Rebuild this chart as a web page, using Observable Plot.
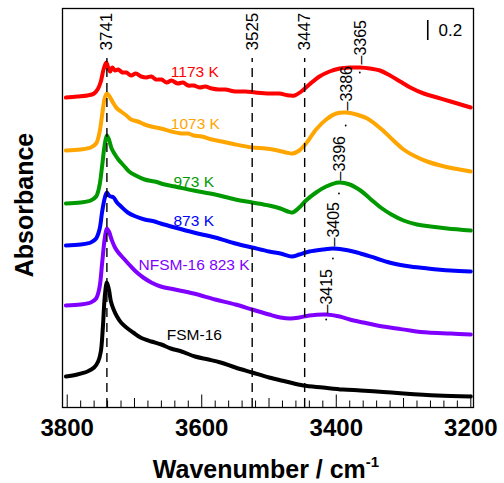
<!DOCTYPE html>
<html><head><meta charset="utf-8">
<script src="https://cdn.jsdelivr.net/npm/d3@7"></script>
<script src="https://cdn.jsdelivr.net/npm/@observablehq/plot@0.6"></script>
<style>
body{margin:0;background:#fff;}
svg{font-family:"Liberation Sans",Arial,sans-serif;}
</style>
</head><body><div id="chart"></div>
<script>
// ---- data: [wavenumber, absorbance (offset)] ----
const fsm16 = [[3802,0.31],[3785,0.33],[3770,0.36],[3760,0.40],[3754,0.46],[3750,0.56],[3747,0.80],[3744,1.12],[3741,1.25],[3738,1.18],[3735,1.06],[3731,0.98],[3726,0.91],[3720,0.85],[3712,0.80],[3702,0.75],[3691,0.70],[3675,0.66],[3660,0.63],[3646,0.59],[3630,0.56],[3610,0.51],[3590,0.48],[3572,0.45],[3550,0.40],[3525,0.35],[3500,0.30],[3475,0.26],[3449,0.22],[3420,0.20],[3390,0.18],[3364,0.17],[3330,0.155],[3300,0.14],[3250,0.12],[3200,0.11]];
const nfsm823 = [[3802,1.02],[3780,1.03],[3765,1.05],[3757,1.09],[3752,1.20],[3748,1.45],[3744,1.70],[3741,1.79],[3738,1.76],[3734,1.68],[3729,1.60],[3724,1.55],[3716,1.49],[3708,1.43],[3698,1.36],[3687,1.30],[3675,1.25],[3661,1.21],[3640,1.18],[3612,1.14],[3580,1.08],[3550,1.03],[3525,0.98],[3500,0.93],[3483,0.90],[3468,0.89],[3455,0.90],[3440,0.92],[3415,0.93],[3395,0.91],[3380,0.88],[3360,0.85],[3339,0.82],[3310,0.79],[3290,0.77],[3264,0.75],[3230,0.74],[3200,0.73]];
const k873 = [[3802,1.62],[3780,1.63],[3765,1.65],[3757,1.69],[3752,1.78],[3748,1.96],[3744,2.10],[3741,2.15],[3738,2.12],[3735,2.11],[3731,2.10],[3726,2.05],[3720,2.01],[3710,1.95],[3698,1.91],[3685,1.88],[3670,1.86],[3661,1.84],[3640,1.80],[3612,1.75],[3580,1.70],[3550,1.64],[3525,1.60],[3500,1.56],[3483,1.54],[3466,1.51],[3455,1.53],[3440,1.56],[3420,1.58],[3405,1.59],[3390,1.58],[3375,1.56],[3364,1.54],[3340,1.49],[3315,1.44],[3290,1.41],[3264,1.39],[3230,1.37],[3200,1.36]];
const k973 = [[3802,2.04],[3780,2.05],[3765,2.07],[3757,2.11],[3752,2.22],[3748,2.42],[3744,2.64],[3741,2.72],[3738,2.68],[3734,2.59],[3729,2.53],[3724,2.48],[3716,2.42],[3708,2.36],[3698,2.32],[3685,2.28],[3670,2.26],[3655,2.23],[3640,2.21],[3612,2.17],[3580,2.13],[3550,2.08],[3525,2.05],[3500,2.02],[3483,1.99],[3472,1.96],[3465,1.95],[3455,2.00],[3445,2.07],[3430,2.15],[3415,2.21],[3396,2.25],[3380,2.23],[3364,2.17],[3350,2.09],[3334,2.00],[3318,1.93],[3300,1.87],[3280,1.83],[3260,1.81],[3235,1.79],[3200,1.77]];
const k1073 = [[3802,2.57],[3780,2.58],[3765,2.60],[3757,2.64],[3752,2.75],[3748,2.93],[3744,3.10],[3741,3.14],[3737,3.11],[3732,3.05],[3726,2.99],[3720,2.96],[3712,2.92],[3705,2.88],[3695,2.86],[3685,2.83],[3675,2.81],[3661,2.79],[3645,2.76],[3630,2.74],[3620,2.74],[3612,2.72],[3600,2.71],[3585,2.68],[3570,2.66],[3550,2.63],[3525,2.60],[3505,2.59],[3487,2.57],[3475,2.55],[3465,2.54],[3455,2.57],[3445,2.64],[3430,2.78],[3415,2.88],[3400,2.94],[3386,2.95],[3370,2.93],[3354,2.89],[3334,2.79],[3315,2.67],[3300,2.58],[3285,2.52],[3265,2.46],[3245,2.42],[3225,2.39],[3200,2.36]];
const k1173 = [[3802,3.10],[3785,3.11],[3770,3.12],[3760,3.14],[3754,3.19],[3750,3.26],[3746,3.38],[3742,3.45],[3739,3.40],[3736,3.36],[3733,3.40],[3729,3.37],[3724,3.38],[3718,3.35],[3712,3.35],[3705,3.32],[3698,3.34],[3690,3.31],[3682,3.30],[3675,3.31],[3668,3.28],[3660,3.28],[3652,3.25],[3645,3.27],[3636,3.24],[3628,3.25],[3620,3.22],[3612,3.22],[3603,3.20],[3595,3.21],[3585,3.19],[3575,3.18],[3565,3.18],[3550,3.16],[3535,3.16],[3520,3.15],[3500,3.14],[3485,3.14],[3470,3.12],[3462,3.12],[3452,3.16],[3440,3.23],[3425,3.31],[3410,3.36],[3395,3.39],[3380,3.40],[3365,3.40],[3350,3.39],[3335,3.37],[3320,3.32],[3305,3.26],[3290,3.20],[3270,3.14],[3250,3.10],[3230,3.06],[3215,3.03],[3200,3.00]];

const seriesNames = ["FSM-16","NFSM-16 823 K","873 K","973 K","1073 K","1173 K"];
const seriesColors = ["#000000","#7f00ff","#0000ff","#009a00","#ffa500","#ff0000"];
const seriesData = [fsm16, nfsm823, k873, k973, k1073, k1173];
const labelWn = [3652, 3694, 3642, 3642, 3646, 3646];
const labelAbs = [0.72, 1.42, 1.86, 2.25, 2.83, 3.35];

const dashWn = [3741, 3525, 3447];
const peakWn = [3415, 3405, 3396, 3386, 3365];
const peakAbs = [0.94, 1.61, 2.27, 2.97, 3.43];
const peakDotAbs = [0.88, 1.49, 2.14, 2.82, 3.35];

const tickLabels = [3800, 3600, 3400, 3200];
const ticks100 = [3700, 3500, 3300];
const ticks20 = d3.range(3200, 3801, 20).filter(v => v % 100 !== 0);

const scaleBarWn = 3264, scaleBarLo = 3.67, scaleBarHi = 3.87, scaleBarText = "0.2";

// ---- build ----
const rows = seriesData.flatMap((pts, i) => pts.map(([wn, a]) => ({s: seriesNames[i], wn, a})));
const labels = seriesNames.map((n, i) => ({n, wn: labelWn[i], a: labelAbs[i], c: seriesColors[i]}));
const peaks = peakWn.map((wn, i) => ({wn, a: peakAbs[i], d: peakDotAbs[i]}));

const marks = [Plot.frame({stroke: "black", strokeWidth: 1.3})];
seriesNames.forEach((n, i) => {
  marks.push(Plot.line(rows.filter(r => r.s === n), {x: "wn", y: "a", stroke: seriesColors[i], strokeWidth: 4, curve: "catmull-rom"}));
});
marks.push(
  Plot.ruleX(dashWn, {x: d => d, y1: 0, y2: 3.49, stroke: "black", strokeWidth: 1.4, strokeDasharray: "9,6"}),
  Plot.text(dashWn, {x: d => d, y: 3.57, text: d => String(d), rotate: -90, textAnchor: "start", fontSize: 17, fill: "black"}),
  Plot.text(peaks, {x: "wn", y: "a", text: d => "\u2013" + d.wn, rotate: -90, textAnchor: "start", fontSize: 16, fill: "black", dx: 1}),
  Plot.dot(peaks, {x: "wn", y: "d", r: 0.9, fill: "black", stroke: null}),
  Plot.text(labels, {x: "wn", y: "a", text: "n", fill: "c", textAnchor: "start", fontSize: 15.5}),
  Plot.ruleX(ticks20, {x: d => d, y1: 0, y2: 0.065, stroke: "black", strokeWidth: 1}),
  Plot.ruleX(ticks100, {x: d => d, y1: 0, y2: 0.09, stroke: "black", strokeWidth: 1}),
  Plot.ruleX(tickLabels, {x: d => d, y1: 0, y2: 0.125, stroke: "black", strokeWidth: 1}),
  Plot.text(tickLabels, {x: d => d, y: 0, dy: 21, text: d => String(d), fontSize: 24, fontWeight: "bold", fill: "black"}),
  Plot.ruleX([scaleBarWn], {x: d => d, y1: scaleBarLo, y2: scaleBarHi, stroke: "black", strokeWidth: 1.6}),
  Plot.text([scaleBarText], {x: 3248, y: (scaleBarLo + scaleBarHi) / 2, text: d => d, textAnchor: "start", fontSize: 17, fill: "black"})
);

const svg = Plot.plot({
  width: 504, height: 483,
  marginLeft: 62, marginRight: 31, marginTop: 8, marginBottom: 76,
  x: {domain: [3807, 3196], axis: null},
  y: {domain: [0, 3.99], axis: null},
  style: {fontFamily: "'Liberation Sans', Arial, sans-serif", background: "white", color: "black"},
  marks
});
document.getElementById("chart").appendChild(svg);

const s = d3.select(svg);
const xl = s.append("text").attr("x", 266).attr("y", 478).attr("text-anchor", "middle")
  .style("font-size", "25px").style("font-weight", "bold").attr("fill", "black");
xl.append("tspan").text("Wavenumber / cm");
xl.append("tspan").attr("dy", -11).style("font-size", "15px").text("-1");
s.append("text").attr("transform", "translate(33,205) rotate(-90)").attr("text-anchor", "middle")
  .style("font-size", "25px").style("font-weight", "bold").attr("fill", "black").text("Absorbance");
</script>
</body></html>
